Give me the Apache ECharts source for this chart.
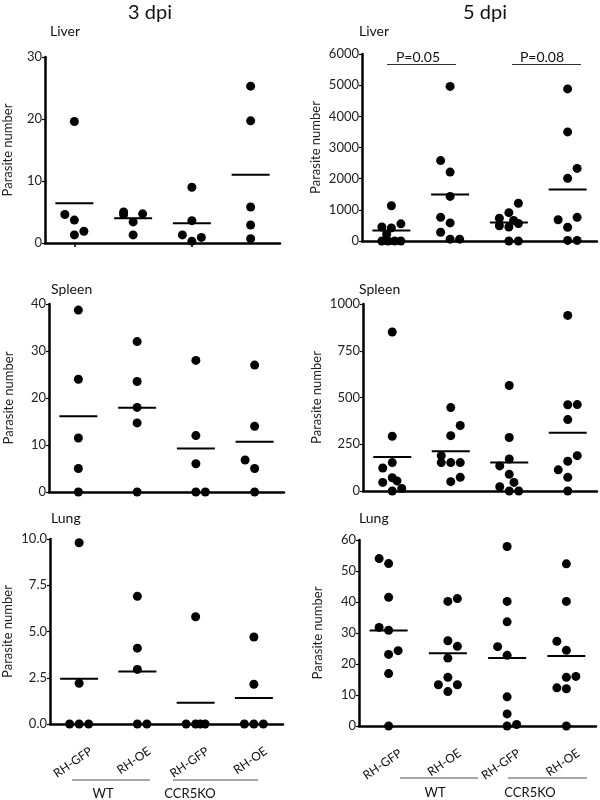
<!DOCTYPE html>
<html><head><meta charset="utf-8">
<script src="https://cdn.jsdelivr.net/npm/echarts@6/dist/echarts.min.js"></script>
<style>html,body{margin:0;padding:0;background:#fff}#c{width:600px;height:800px}</style>
</head><body><div id="c"></div>
<script>
// ---- data ----
const categories = ['RH-GFP', 'RH-OE', 'RH-GFP', 'RH-OE'];
const groupNames = ['WT', 'CCR5KO'];
const dayTitles = ['3 dpi', '5 dpi'];
const organTitles = ['Liver', 'Spleen', 'Lung'];
const pValues = ['P=0.05', 'P=0.08'];

const liver3 = [[19.6, 4.6, 3.7, 1.9, 1.3], [5.0, 4.6, 4.7, 3.4, 1.3], [9.0, 3.6, 1.3, 0.9, 0.3], [25.3, 19.7, 5.8, 2.9, 0.7]];
const liver3Mean = [6.4, 4.0, 3.2, 11.0];
const liver3Jitter = [[0, -1, 0, 1, 0], [-1, -1, 1, 0, 0], [0, 0, -1, 1, 0], [0, 0, 0, 0, 0]];

const liver5 = [[1130, 550, 450, 420, 220, 0, 0, 0, 0], [4960, 2580, 2210, 1430, 760, 580, 280, 60, 60], [1210, 910, 730, 660, 560, 490, 450, 0, 0], [4880, 3500, 2330, 2010, 760, 680, 440, 20, 20]];
const liver5Mean = [340, 1490, 590, 1650];
const liver5Jitter = [[0, 1, -1, 0, -0.5, -1, -0.35, 0.35, 1], [0, -1, 0, 0, -1, 0, -1, 0, 1], [1, 0, -1, 0.5, 1, -1, 0, 0, 1], [0, 0, 1, 0, 1, -1, 0, 0, 1]];

const spleen3 = [[38.7, 24, 11.5, 5, 0], [32, 23.5, 18, 14.7, 0], [28, 12, 6, 0, 0], [27, 14, 6.8, 5, 0]];
const spleen3Mean = [16.1, 17.9, 9.25, 10.7];
const spleen3Jitter = [[0, 0, 0, 0, 0], [0, 0, 0, 0, 0], [0, 0, 0, 0, 1], [0, 0, -1, 0, 0]];

const spleen5 = [[850, 293, 152, 123, 71, 46, 54, 14, 0], [446, 350, 296, 189, 152, 152, 152, 73, 50], [564, 286, 171, 134, 89, 46, 23, 0, 0], [939, 461, 462, 382, 189, 159, 113, 73, 0]];
const spleen5Mean = [182, 212, 152, 312];
const spleen5Jitter = [[0, 0, 0, -1, 0, -1, 0.5, 1, 0], [0, 1, 0, -1, -1, 0, 1, 1, 0], [0, 0, 0, -1, 0, 0.5, -1, 0, 1], [0, 0, 1, 0, 1, 0, -1, 0, 0]];

const lung3 = [[9.8, 2.2, 0, 0, 0], [6.9, 4.1, 2.95, 0, 0], [5.8, 0, 0, 0, 0], [4.7, 2.15, 0, 0, 0]];
const lung3Mean = [2.45, 2.84, 1.15, 1.4];
const lung3Jitter = [[0, 0, -1, 0, 1], [0, 0, 0, 0, 1], [0, -1, 0, 0.5, 1], [0, 0, -1, 0, 1]];

const lung5 = [[54, 52.4, 41.5, 31.8, 30.9, 24.3, 23.1, 16.9, 0], [40.2, 41.1, 27.5, 25.7, 21.9, 15.7, 13.3, 13.3, 11.1], [57.9, 40.2, 33.6, 25.6, 22.8, 9.4, 3.9, 0, 0.5], [52.3, 40.2, 27.3, 24.4, 16, 15.7, 12.3, 12, 0]];
const lung5Mean = [30.8, 23.5, 21.9, 22.6];
const lung5Jitter = [[-1, 0, 0, -1, 0, 1, 0, 0, 0], [0, 1, 0, 1, 0, 0, -1, 1, 0], [0, 0, 0, -1, 0, 0, 0, 0, 1], [0, 0, -1, 0, 1, 0, -1, 0, 0]];

const yMax = [30, 6000, 40, 1000, 10, 60];
const yInterval = [10, 1000, 10, 250, 2.5, 10];

// ---- layout ----
const FONT = 'Lato, "Open Sans", sans-serif';
const plain = v => String(v);
const panels = [
  {d: liver3, m: liver3Mean, j: liver3Jitter, grid: {left: 44, top: 57, width: 236, height: 186}, gap: 31},
  {d: liver5, m: liver5Mean, j: liver5Jitter, grid: {left: 362, top: 54, width: 235, height: 187}, gap: 40},
  {d: spleen3, m: spleen3Mean, j: spleen3Jitter, grid: {left: 49, top: 304, width: 235, height: 188}, gap: 34},
  {d: spleen5, m: spleen5Mean, j: spleen5Jitter, grid: {left: 363, top: 304, width: 234, height: 187}, gap: 40},
  {d: lung3, m: lung3Mean, j: lung3Jitter, grid: {left: 47, top: 539, width: 236, height: 185}, gap: 36, fmt: v => v.toFixed(1), labels: true},
  {d: lung5, m: lung5Mean, j: lung5Jitter, grid: {left: 359, top: 540, width: 237, height: 186}, gap: 35, labels: true}
];
const STEP = 9.5;

const grid = [], xAxis = [], yAxis = [], series = [];
panels.forEach((p, i) => {
  grid.push(p.grid);
  xAxis.push({
    type: 'category', gridIndex: i, data: categories, boundaryGap: true,
    axisLine: {lineStyle: {color: '#000', width: 2.5}},
    axisTick: {show: true, alignWithLabel: true, length: 4, lineStyle: {color: '#000', width: 1.5}},
    axisLabel: {show: false},
    splitLine: {show: false}
  });
  yAxis.push({
    type: 'value', gridIndex: i, min: 0, max: yMax[i], interval: yInterval[i],
    axisLine: {show: true, lineStyle: {color: '#000', width: 2.5}},
    axisTick: {show: true, length: 3, lineStyle: {color: '#000', width: 1.2}},
    axisLabel: {fontSize: 13, color: '#222', fontFamily: FONT, margin: 3, formatter: p.fmt || plain},
    splitLine: {show: false},
    name: 'Parasite number', nameLocation: 'middle', nameGap: p.gap,
    nameTextStyle: {fontSize: 13, color: '#222', fontFamily: FONT}
  });
  const pts = [];
  p.d.forEach((arr, g) => arr.forEach((v, k) => {
    pts.push({value: [g, v], symbolOffset: [p.j[g][k] * STEP, 0]});
  }));
  series.push({
    type: 'scatter', xAxisIndex: i, yAxisIndex: i, data: pts, symbol: 'circle', symbolSize: 9,
    itemStyle: {color: '#000', opacity: 1}, clip: false, silent: true, z: 5
  });
  series.push({
    type: 'scatter', xAxisIndex: i, yAxisIndex: i, data: p.m.map((v, g) => [g, v]),
    symbol: 'rect', symbolSize: [38, 2], itemStyle: {color: '#000', opacity: 1}, clip: false, silent: true, z: 4
  });
});

const txt = (text, x, y, size, align, rot) => ({type: 'text', x, y, rotation: rot || 0, style: {text, fontSize: size, fontFamily: FONT, fill: '#111', align: align || 'center', verticalAlign: 'middle'}});
const ln = (x1, y1, x2, y2, color, w) => ({type: 'line', shape: {x1, y1, x2, y2}, style: {stroke: color, lineWidth: w}});

const graphic = [
  txt(dayTitles[0], 150, 13, 20), txt(dayTitles[1], 485, 13, 20),
  txt(organTitles[0], 50, 31, 14, 'left'), txt(organTitles[0], 359, 31, 14, 'left'),
  txt(organTitles[1], 51, 289, 14, 'left'), txt(organTitles[1], 359, 289, 14, 'left'),
  txt(organTitles[2], 51, 518, 14, 'left'), txt(organTitles[2], 359, 518, 14, 'left'),
  txt(pValues[0], 418, 57, 14), ln(387, 64.5, 456, 64.5, '#333', 1.2),
  txt(pValues[1], 542, 57, 14), ln(512, 64.5, 581, 64.5, '#333', 1.2),
  ln(72, 780, 150, 780, '#888', 1.5), ln(173, 780, 258, 780, '#888', 1.5),
  ln(400, 778, 478, 778, '#888', 1.5), ln(508, 778, 587, 778, '#888', 1.5),
  txt(groupNames[0], 103, 794, 13), txt(groupNames[1], 190, 794, 13),
  txt(groupNames[0], 435, 793, 13), txt(groupNames[1], 530, 793, 13)
];

const chart = echarts.init(document.getElementById('c'), null, {renderer: 'canvas'});
chart.setOption({animation: false, backgroundColor: '#fff', grid, xAxis, yAxis, series});

// rotated category labels placed at the axis' own category positions
panels.forEach((p, i) => {
  if (!p.labels) return;
  categories.forEach((c, g) => {
    const pt = chart.convertToPixel({xAxisIndex: i, yAxisIndex: i}, [g, 0]);
    graphic.push(txt(c, pt[0] + 12, pt[1] + 26, 12, 'right', 0.6));
  });
});
chart.setOption({graphic});
</script></body></html>
